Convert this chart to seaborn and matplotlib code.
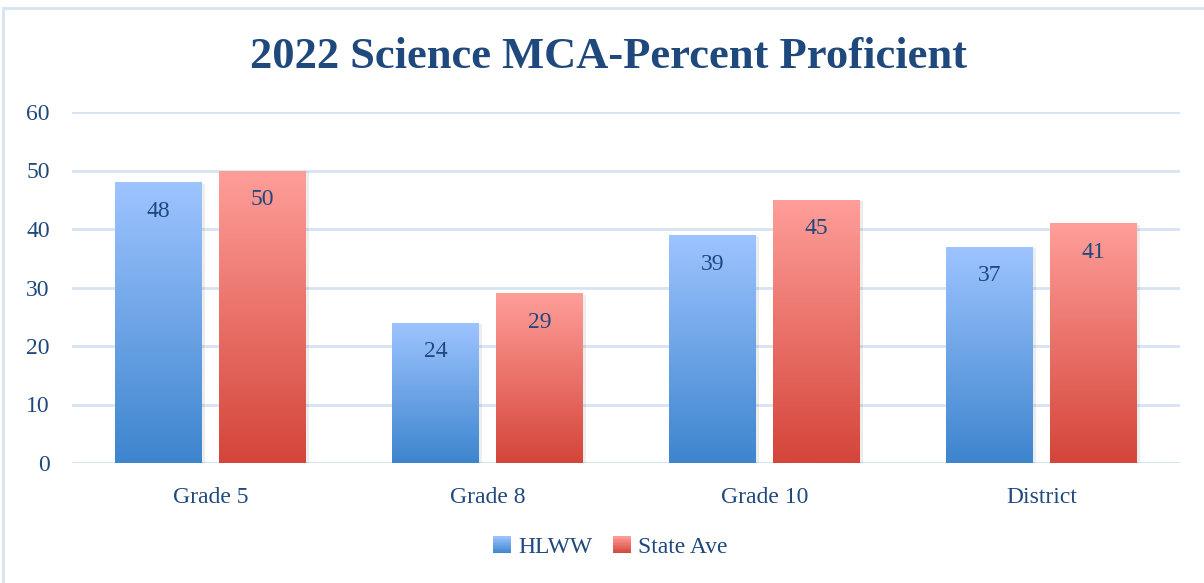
import numpy as np
import pandas as pd
import matplotlib
matplotlib.use("Agg")
import matplotlib.pyplot as plt
import matplotlib.patches as mpatches
import matplotlib.patheffects as pe
from matplotlib.colors import LinearSegmentedColormap
from matplotlib.legend_handler import HandlerBase
import seaborn as sns

categories = ["Grade 5", "Grade 8", "Grade 10", "District"]
hlww = [48, 24, 39, 37]
state_ave = [50, 29, 45, 41]
series_names = ["HLWW", "State Ave"]
title = "2022 Science MCA-Percent Proficient"
y_ticks = [0, 10, 20, 30, 40, 50, 60]

df = pd.DataFrame({
    "category": categories * 2,
    "value": hlww + state_ave,
    "series": [series_names[0]] * len(categories) + [series_names[1]] * len(categories),
})

sns.set_theme(style="white")
plt.rcParams["font.family"] = ["Liberation Serif", "DejaVu Serif"]
TEXT = "#1F497D"
GRID = "#D6E3F3"

fig = plt.figure(figsize=(12.04, 5.83), dpi=100)
ax = fig.add_axes([72 / 1204, 120 / 583, 1108 / 1204, 351 / 583])

sns.barplot(data=df, x="category", y="value", hue="series", order=categories,
            hue_order=series_names, width=0.75, gap=0.17, ax=ax,
            palette=["#6FA3E6", "#EE7A72"], legend=False, saturation=1)

cmaps = [
    LinearSegmentedColormap.from_list("b", ["#3D85CE", "#9EC4FF"]),
    LinearSegmentedColormap.from_list("r", ["#D4453A", "#FF9E99"]),
]
grad = np.linspace(0, 1, 256).reshape(-1, 1)
for ci, container in enumerate(ax.containers):
    for bar, v in zip(container, [hlww, state_ave][ci]):
        x0, y0 = bar.get_x(), bar.get_y()
        w, h = bar.get_width(), bar.get_height()
        bar.set_facecolor("white")
        bar.set_edgecolor("none")
        bar.set_zorder(1.8)
        bar.set_path_effects([pe.SimplePatchShadow(offset=(2.5, -1), shadow_rgbFace="#000000", alpha=0.07),
                              pe.Normal()])
        im = ax.imshow(grad, extent=[x0, x0 + w, y0, y0 + h], origin="lower",
                       aspect="auto", cmap=cmaps[ci], zorder=2)
        im.set_clip_path(bar)
        ax.annotate(f"{v}", xy=(x0 + w / 2, y0 + h), xytext=(0, -21),
                    textcoords="offset points", ha="center", va="center",
                    fontsize=17, color=TEXT, zorder=3)

ax.set_xlim(-0.5, 3.5)
ax.set_ylim(0, 60)
ax.set_yticks(y_ticks)
ax.set_xlabel("")
ax.set_ylabel("")
ax.grid(axis="y", color=GRID, linewidth=2)
ax.set_axisbelow(True)
for s in ax.spines.values():
    s.set_visible(False)
ax.axhline(0, color=GRID, linewidth=2, zorder=1)
ax.tick_params(axis="both", length=0, labelsize=17, labelcolor=TEXT)
ax.tick_params(axis="y", pad=16)
ax.tick_params(axis="x", pad=17)

fig.text(0.505, 1 - 57 / 583, title, ha="center", va="center", fontsize=32,
         fontweight="bold", color=TEXT)


class GradHandler(HandlerBase):
    def __init__(self, cmap):
        super().__init__()
        self.cmap = cmap

    def create_artists(self, legend, orig_handle, xdescent, ydescent, width, height, fontsize, trans):
        n = 12
        arts = []
        for i in range(n):
            r = mpatches.Rectangle((-xdescent, -ydescent + height * i / n), width, height / n + 0.3,
                                   facecolor=self.cmap((i + 0.5) / n), edgecolor="none", transform=trans)
            arts.append(r)
        return arts


handles = [mpatches.Patch(facecolor="#6FA3E6", edgecolor="none", label=series_names[0]),
           mpatches.Patch(facecolor="#EE7A72", edgecolor="none", label=series_names[1])]
fig.legend(handles=handles, loc="center", bbox_to_anchor=(0.507, 1 - 547 / 583), ncol=2,
           frameon=False, fontsize=17, labelcolor=TEXT, handlelength=0.75, handleheight=0.75,
           handletextpad=0.3, columnspacing=0.9,
           handler_map={handles[0]: GradHandler(cmaps[0]), handles[1]: GradHandler(cmaps[1])})

border = mpatches.Rectangle((3 / 1204, -0.05), 1.1, 1 - 8 / 583 + 0.05, transform=fig.transFigure,
                            facecolor="none", edgecolor=GRID, linewidth=2, zorder=0)
fig.patches.append(border)

fig.savefig("out.png", dpi=100)
